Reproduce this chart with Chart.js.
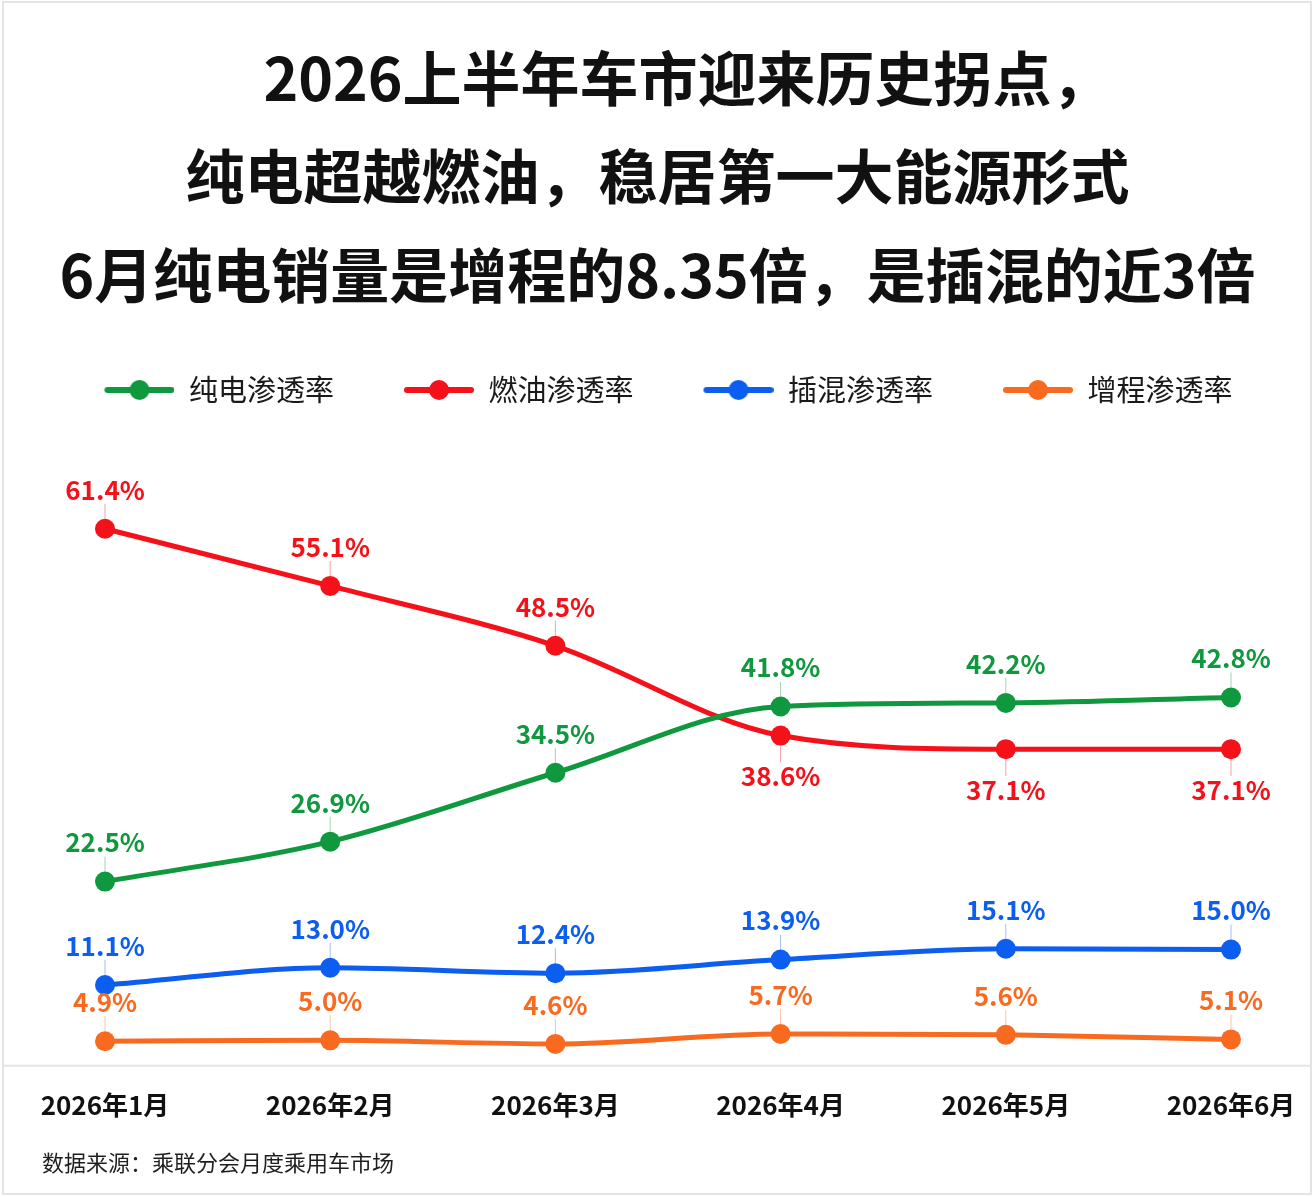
<!DOCTYPE html>
<html lang="zh-CN">
<head>
<meta charset="utf-8">
<title>2026上半年车市渗透率</title>
<script src="https://cdn.jsdelivr.net/npm/chart.js@4.4.1/dist/chart.umd.min.js"></script>
<style>
  html, body { margin: 0; padding: 0; background: #fff; }
  #wrap { width: 1315px; height: 1197px; position: relative; }
</style>
</head>
<body>
<div id="wrap"><canvas id="chart"></canvas></div>
<script>
const months = ['2026年1月', '2026年2月', '2026年3月', '2026年4月', '2026年5月', '2026年6月']
const bevRate = [22.5, 26.9, 34.5, 41.8, 42.2, 42.8]
const iceRate = [61.4, 55.1, 48.5, 38.6, 37.1, 37.1]
const phevRate = [11.1, 13.0, 12.4, 13.9, 15.1, 15.0]
const erevRate = [4.9, 5.0, 4.6, 5.7, 5.6, 5.1]
const seriesNames = ['纯电渗透率', '燃油渗透率', '插混渗透率', '增程渗透率']
const titleLines = [
	'\u20032026上半年车市迎来历史拐点，',
	'纯电超越燃油，稳居第一大能源形式',
	'6月纯电销量是增程的8.35倍，是插混的近3倍',
]
const sourceText = '数据来源：乘联分会月度乘用车市场'

const FONT = '"Noto Sans CJK SC", "Noto Sans", sans-serif'
const COLORS = ['#0f983d', '#f5111a', '#0c5ef0', '#f86a20']

// line+dot swatch for the legend, drawn on the right of a wider canvas
function legendMarker(color) {
	const c = document.createElement('canvas')
	c.width = 92
	c.height = 24
	const g = c.getContext('2d')
	g.strokeStyle = color
	g.lineWidth = 6
	g.lineCap = 'round'
	g.beginPath()
	g.moveTo(25, 12)
	g.lineTo(89, 12)
	g.stroke()
	g.fillStyle = color
	g.beginPath()
	g.arc(57, 12, 10, 0, Math.PI * 2)
	g.fill()
	return c
}
const markers = COLORS.map(legendMarker)

// value labels with a short leader line; red flips below after the crossing
const valueLabels = {
	id: 'valueLabels',
	afterDatasetsDraw(chart) {
		const { ctx } = chart
		ctx.save()
		ctx.font = `bold 26px ${FONT}`
		ctx.textAlign = 'center'
		ctx.textBaseline = 'middle'
		chart.data.datasets.forEach((ds, i) => {
			const meta = chart.getDatasetMeta(i)
			meta.data.forEach((pt, j) => {
				const below = ds.labelBelow && ds.labelBelow[j]
				const ly = below ? pt.y + 41 : pt.y - 39
				ctx.strokeStyle = ds.borderColor + '66'
				ctx.lineWidth = 1
				ctx.beginPath()
				if (below) {
					ctx.moveTo(pt.x, pt.y + 10)
					ctx.lineTo(pt.x, ly - 14)
				} else {
					ctx.moveTo(pt.x, ly + 14)
					ctx.lineTo(pt.x, pt.y - 10)
				}
				ctx.stroke()
				ctx.fillStyle = ds.borderColor
				ctx.fillText(`${ds.data[j].toFixed(1)}%`, pt.x, ly)
			})
		})
		ctx.restore()
	},
}

// frame, baseline and source note
const decor = {
	id: 'decor',
	afterDraw(chart) {
		const { ctx, width, height, chartArea } = chart
		ctx.save()
		ctx.strokeStyle = '#e4e4e4'
		ctx.lineWidth = 2
		ctx.strokeRect(3, 2, width - 7, height - 5)
		ctx.beginPath()
		ctx.moveTo(3, chartArea.bottom + 1)
		ctx.lineTo(width - 4, chartArea.bottom + 1)
		ctx.stroke()
		ctx.fillStyle = '#1f1f1f'
		ctx.font = `22px ${FONT}`
		ctx.textBaseline = 'middle'
		ctx.fillText(sourceText, 42, 1163)
		ctx.restore()
	},
}

const seriesData = [bevRate, iceRate, phevRate, erevRate]
const datasets = seriesData.map((data, i) => ({
	label: seriesNames[i],
	data,
	borderColor: COLORS[i],
	backgroundColor: COLORS[i],
	pointBackgroundColor: COLORS[i],
	borderWidth: 5,
	pointRadius: 10,
	pointBorderWidth: 0,
	cubicInterpolationMode: 'monotone',
	clip: false,
	labelBelow: i === 1 ? [false, false, false, true, true, true] : null,
}))

// invisible side axes just to reserve the margins around the plot
const spacer = (w) => ({
	display: true,
	min: 2.3,
	max: 74,
	grid: { display: false, drawTicks: false },
	border: { display: false },
	ticks: { display: false },
	afterFit(scale) { scale.width = w },
})

new Chart(document.getElementById('chart'), {
	type: 'line',
	data: { labels: months, datasets },
	plugins: [valueLabels, decor],
	options: {
		responsive: true,
		maintainAspectRatio: false,
		animation: false,
		layout: { padding: { left: 0, right: 0, top: 0, bottom: 51 } },
		plugins: {
			tooltip: { enabled: false },
			title: {
				display: true,
				text: titleLines,
				color: '#111',
				font: { family: FONT, size: 59, weight: 'bold', lineHeight: '98.5px' },
				padding: { top: 29, bottom: 3 },
			},
			legend: {
				display: true,
				labels: {
					usePointStyle: true,
					pointStyleWidth: 92,
					padding: 48,
					color: '#1a1a1a',
					font: { family: FONT, size: 29 },
					generateLabels: (chart) => chart.data.datasets.map((ds, i) => ({
						text: ds.label,
						fillStyle: ds.borderColor,
						strokeStyle: ds.borderColor,
						lineWidth: 0,
						pointStyle: markers[i],
						fontColor: '#1a1a1a',
						hidden: false,
						datasetIndex: i,
					})),
				},
			},
		},
		scales: {
			x: {
				offset: false,
				grid: { display: false, drawTicks: false },
				border: { display: false },
				ticks: {
					color: '#111',
					padding: 25,
					font: { family: FONT, size: 26, weight: 'bold' },
				},
				// the side spacers already leave room for the end labels
				afterFit(scale) {
					scale.paddingLeft = 0
					scale.paddingRight = 0
				},
			},
			y: { position: 'left', ...spacer(105) },
			y2: { position: 'right', ...spacer(84) },
		},
	},
})
</script>
</body>
</html>
